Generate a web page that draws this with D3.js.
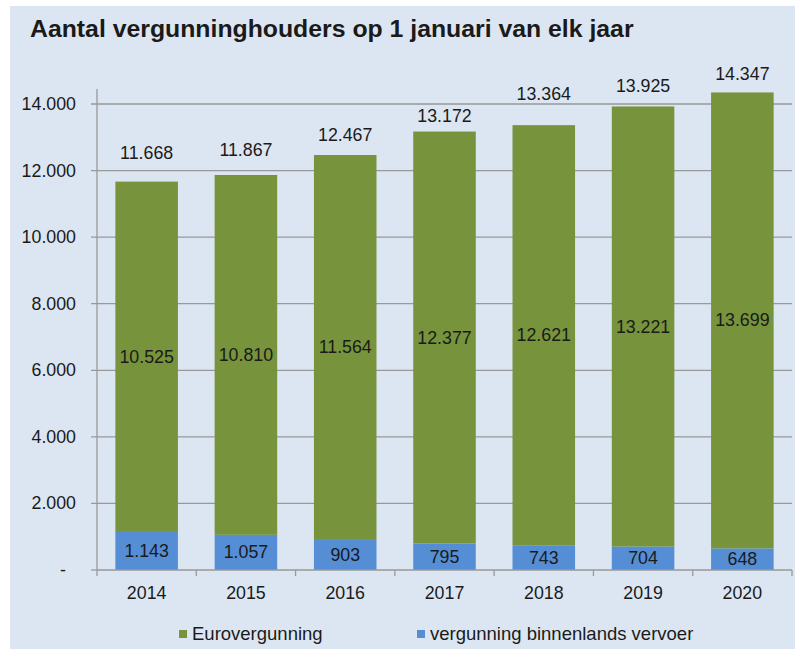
<!DOCTYPE html>
<html><head><meta charset="utf-8">
<script src="https://cdn.jsdelivr.net/npm/d3@7"></script>
<style>body{margin:0;background:#fff}svg{display:block}text{font-family:"Liberation Sans",Arial,sans-serif;fill:#1a1a1a}</style>
</head><body><svg id="c" width="795" height="649"></svg>
<script>
const years = ["2014","2015","2016","2017","2018","2019","2020"];
const binnenlands = [1143,1057,903,795,743,704,648];
const euro = [10525,10810,11564,12377,12621,13221,13699];
const totals = [11668,11867,12467,13172,13364,13925,14347];
const yTicks = [0,2000,4000,6000,8000,10000,12000,14000];
const seriesNames = ["Eurovergunning","vergunning binnenlands vervoer"];
const colors = {euro:"#77933C", binn:"#558ED5"};
// label placement (pixels above bar top, as in the original layout)
const totalLabelGap = [23,19,14,10,25,14,12];

const fmt = v => v === 0 ? "-" : d3.format(",")(v).replace(/,/g,".");
const svg = d3.select("#c");
svg.append("rect").attr("x",10).attr("y",6).attr("width",785).attr("height",643).attr("fill","#DCE6F2");
svg.append("text").attr("x",30).attr("y",37).attr("font-size","24.8px").attr("font-weight","bold").attr("fill","#111").text("Aantal vergunninghouders op 1 januari van elk jaar");

const x = d3.scaleBand().domain(years).range([97,792]).paddingInner(0.37).paddingOuter(0.185);
const xb = d3.scaleBand().domain(years).range([97,792]);
const y = d3.scaleLinear().domain([0,14450]).range([570,89]);
const FS = "17.8px";

// gridlines
svg.append("g").selectAll("line").data(yTicks.filter(d=>d>0)).join("line")
  .attr("x1",91).attr("x2",792).attr("y1",d=>y(d)).attr("y2",d=>y(d))
  .attr("stroke","#999").attr("stroke-width",1.3);
// y axis line
svg.append("line").attr("x1",97).attr("x2",97).attr("y1",89).attr("y2",570).attr("stroke","#999").attr("stroke-width",1.3);
svg.append("line").attr("x1",91).attr("x2",97).attr("y1",570).attr("y2",570).attr("stroke","#999").attr("stroke-width",1.3);
// y labels
svg.append("g").selectAll("text").data(yTicks).join("text")
  .attr("x",d=>d===0?66:76).attr("y",d=>y(d)+6).attr("text-anchor","end").attr("font-size",FS).text(fmt);

// bars
const g = svg.append("g");
years.forEach((yr,i)=>{
  g.append("rect").attr("x",x(yr)).attr("width",x.bandwidth()).attr("y",y(binnenlands[i])).attr("height",y(0)-y(binnenlands[i])).attr("fill",colors.binn);
  g.append("rect").attr("x",x(yr)).attr("width",x.bandwidth()).attr("y",y(binnenlands[i]+euro[i])).attr("height",y(binnenlands[i])-y(binnenlands[i]+euro[i])).attr("fill",colors.euro);
  const cx = x(yr)+x.bandwidth()/2;
  g.append("text").attr("x",cx).attr("y",(y(0)+y(binnenlands[i]))/2+6).attr("text-anchor","middle").attr("font-size",FS).text(fmt(binnenlands[i]));
  g.append("text").attr("x",cx).attr("y",(y(binnenlands[i])+y(binnenlands[i]+euro[i]))/2+6).attr("text-anchor","middle").attr("font-size",FS).text(fmt(euro[i]));
  g.append("text").attr("x",cx).attr("y",y(totals[i])-totalLabelGap[i]).attr("text-anchor","middle").attr("font-size",FS).text(fmt(totals[i]));
});

// x axis
svg.append("line").attr("x1",97).attr("x2",792).attr("y1",570).attr("y2",570).attr("stroke","#999").attr("stroke-width",1.3);
const bounds = years.map(d=>xb(d)).concat([792]);
svg.append("g").selectAll("line").data(bounds).join("line")
  .attr("x1",d=>d).attr("x2",d=>d).attr("y1",570).attr("y2",576).attr("stroke","#999").attr("stroke-width",1.3);
svg.append("g").selectAll("text").data(years).join("text")
  .attr("x",d=>x(d)+x.bandwidth()/2).attr("y",599).attr("text-anchor","middle").attr("font-size",FS).text(d=>d);

// legend
const leg = [{n:seriesNames[0],c:colors.euro,x:179},{n:seriesNames[1],c:colors.binn,x:417}];
leg.forEach(l=>{
  svg.append("rect").attr("x",l.x).attr("y",630).attr("width",8).attr("height",8).attr("fill",l.c);
  svg.append("text").attr("x",l.x+13).attr("y",640).attr("font-size","18.5px").text(l.n);
});
</script></body></html>
